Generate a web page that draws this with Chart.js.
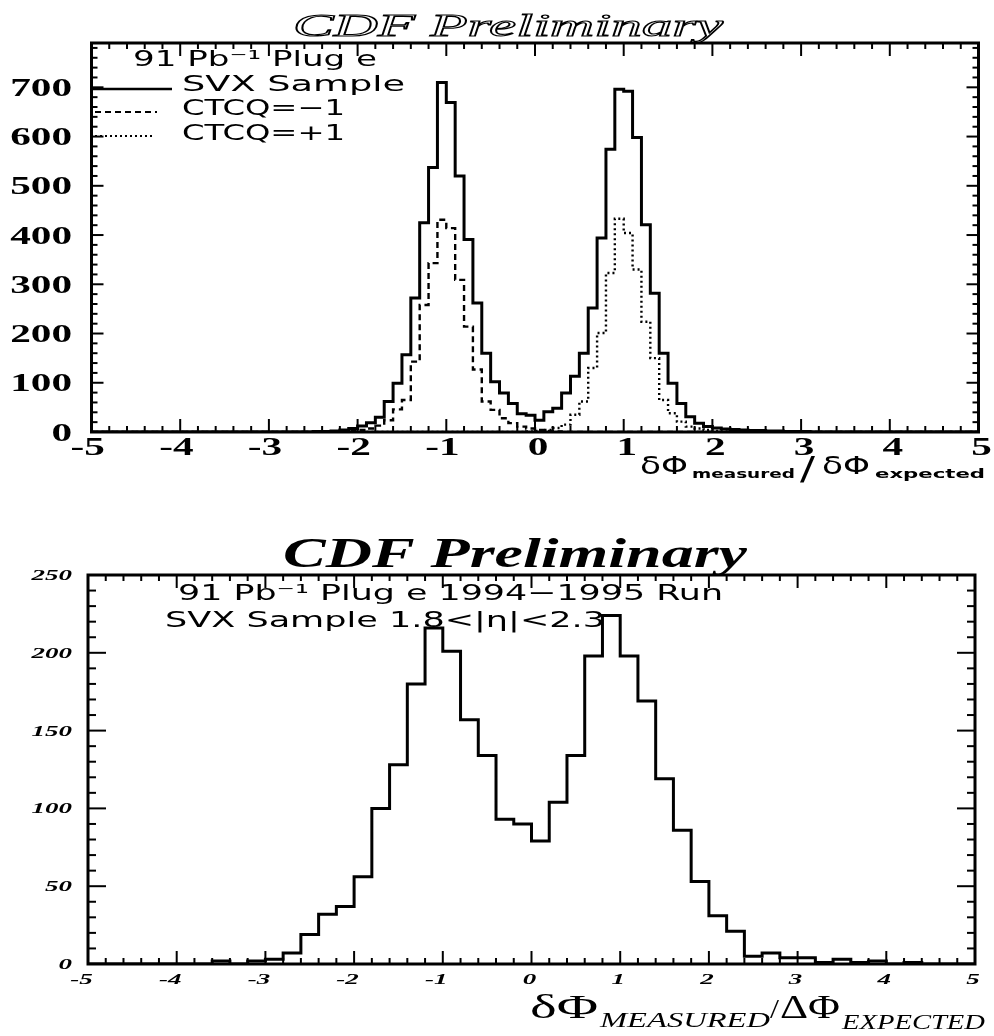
<!DOCTYPE html>
<html><head><meta charset="utf-8">
<script src="https://cdn.jsdelivr.net/npm/chart.js@4.4.0/dist/chart.umd.min.js"></script>
<style>
html,body{margin:0;padding:0;background:#fff;width:994px;height:1036px;overflow:hidden;}
canvas{position:absolute;left:0;}
#c1{top:0;} #c2{top:500px;}
</style></head><body>
<canvas id="c1" width="994" height="500"></canvas>
<canvas id="c2" width="994" height="536"></canvas>
<script>
// ---------- DATA ----------
// Top panel: 100 bins of width 0.1 from -5 to 5
const topRange = [-5, 5];
const topSVX = [
  0,0,0,0,0,0,0,0,0,0, 0,0,0,0,0,0,0,0,0,0, 0,0,0,0,0,
  1,1,2,4,7,12,19,30,62,99,157,272,425,537,710,669,520,391,262,160,102,79,58,37,34,
  24,41,48,79,113,160,252,394,574,696,692,598,421,282,160,99,58,31,18,11,8,6,5,4,3,
  3,2,2,1,1,1,0,0,0,0, 0,0,0,0,0,0,0,0,0,0, 0,0,0,0,0
];
const topCTCQm1 = [
  0,0,0,0,0,0,0,0,0,0, 0,0,0,0,0,0,0,0,0,0, 0,0,0,0,0,0,0,0,0,
  2,4,7,13,24,46,65,143,258,343,431,414,309,214,127,62,45,28,18,11,7,4,2,1,
  0,0,0,0,0,0,0,0,0,0, 0,0,0,0,0,0,0,0,0,0, 0,0,0,0,0,0,0,0,0,0,
  0,0,0,0,0,0,0,0,0,0, 0,0,0,0,0,0,0
];
const topCTCQp1 = [
  0,0,0,0,0,0,0,0,0,0, 0,0,0,0,0,0,0,0,0,0, 0,0,0,0,0,0,0,0,0,0,
  0,0,0,0,0,0,0,0,0,0, 0,0,0,0,0,0,0,0,0,
  1,2,4,8,15,35,62,130,201,323,433,404,330,224,150,65,38,21,11,7,4,2,1,
  0,0,0,0,0,0,0,0,0,0, 0,0,0,0,0,0,0,0,0,0, 0,0,0,0,0,0,0,0
];
const topYTicks = [0,100,200,300,400,500,600,700];
const topXTicks = [-5,-4,-3,-2,-1,0,1,2,3,4,5];
const topYMax = 790;

// Bottom panel: 50 bins of width 0.2 from -5 to 5
const botRange = [-5, 5];
const botSVX = [
  0,0,0,0,0,0,0,2,0,2,
  3,7,19,32,37,56,100,128,180,216,
  201,157,134,93,90,79,104,134,198,224,
  198,169,119,86,53,31,21,5,7,4,
  4,1,3,1,2,0,1,0,0,0
];
const botYTicks = [0,50,100,150,200,250];
const botXTicks = [-5,-4,-3,-2,-1,0,1,2,3,4,5];
const botYMax = 250;

// ---------- helpers ----------
function histPoints(vals, range) {
  const w = (range[1] - range[0]) / vals.length;
  const pts = vals.map((v, i) => ({x: range[0] + i * w, y: v}));
  pts.push({x: range[1], y: vals[vals.length - 1]});
  return pts;
}
function sText(ctx, s, x, y, font, sx, align) {
  ctx.save();
  ctx.font = font;
  ctx.textBaseline = 'alphabetic';
  const m = ctx.measureText(s).width;
  let ox = 0;
  if (align === 'center') ox = -m / 2; else if (align === 'right') ox = -m;
  ctx.translate(x, y); ctx.scale(sx, 1);
  ctx.fillText(s, ox, 0);
  ctx.restore();
  return m * sx;
}
function fitText(ctx, s, x, y, font, width, stroke) {
  ctx.save();
  ctx.font = font;
  ctx.textBaseline = 'alphabetic';
  const m = ctx.measureText(s).width;
  ctx.translate(x, y); ctx.scale(width / m, 1);
  if (stroke) { ctx.lineWidth = stroke; ctx.strokeText(s, 0, 0); }
  else ctx.fillText(s, 0, 0);
  ctx.restore();
}
function seg(ctx, x1, y1, x2, y2) { ctx.beginPath(); ctx.moveTo(x1, y1); ctx.lineTo(x2, y2); ctx.stroke(); }

function drawAxes(chart, o) {
  const {ctx, chartArea: a, scales: {x, y}} = chart;
  ctx.save();
  ctx.strokeStyle = '#000'; ctx.fillStyle = '#000';
  ctx.lineWidth = 2;
  // x ticks (minor every 0.2)
  for (let i = 0; i <= 50; i++) {
    const v = -5 + i * 0.2;
    const px = x.getPixelForValue(v);
    const L = (i % 5 === 0) ? o.xMajor : o.xMinor;
    seg(ctx, px, a.bottom, px, a.bottom - L);
    seg(ctx, px, a.top, px, a.top + L);
  }
  // y ticks
  const n = Math.round(o.yMaxTick / o.yMinorStep);
  for (let i = 0; i <= n; i++) {
    const v = i * o.yMinorStep;
    const py = y.getPixelForValue(v);
    const L = (i % o.yMinorPer === 0) ? o.yMajor : o.yMinor;
    seg(ctx, a.left, py, a.left + L, py);
    seg(ctx, a.right, py, a.right - L, py);
  }
  ctx.lineWidth = 3;
  ctx.strokeRect(a.left, a.top, a.width, a.height);
  // labels
  o.yTicks.forEach(v => {
    sText(ctx, String(v), o.yLabelX, y.getPixelForValue(v) + o.yLabelDy, o.yFont, o.ySx, 'right');
  });
  o.xTicks.forEach(v => {
    const s = String(v);
    ctx.font = o.xFont;
    const dw = ctx.measureText(s.replace('-', '')).width * o.xSx;
    sText(ctx, s, x.getPixelForValue(v) + dw / 2 + o.xLabelDx, o.xLabelY, o.xFont, o.xSx, 'right');
  });
  ctx.restore();
}

const baseOpts = (ymax) => ({
  responsive: false, animation: false, devicePixelRatio: 1,
  plugins: {legend: {display: false}, tooltip: {enabled: false}},
  elements: {point: {radius: 0}, line: {tension: 0}},
  scales: {
    x: {type: 'linear', min: -5, max: 5, display: false},
    y: {type: 'linear', min: 0, max: ymax, display: false}
  }
});

// ---------- TOP CHART ----------
const topOpts = baseOpts(topYMax);
topOpts.layout = {padding: {left: 91.5, right: 15.5, top: 43, bottom: 68}};
new Chart(document.getElementById('c1'), {
  type: 'line',
  data: {datasets: [
    {label: 'SVX Sample', data: histPoints(topSVX, topRange), stepped: 'before', borderColor: '#000', borderWidth: 3, fill: false},
    {label: 'CTCQ=-1', data: histPoints(topCTCQm1, topRange), stepped: 'before', borderColor: '#000', borderWidth: 2.4, borderDash: [6, 4], fill: false},
    {label: 'CTCQ=+1', data: histPoints(topCTCQp1, topRange), stepped: 'before', borderColor: '#000', borderWidth: 2.4, borderDash: [2, 3], fill: false}
  ]},
  options: topOpts,
  plugins: [{
    id: 'deco1',
    afterDraw(chart) {
      const ctx = chart.ctx;
      drawAxes(chart, {
        xMajor: 13, xMinor: 6, yMajor: 12, yMinor: 6, yMinorStep: 20, yMinorPer: 5, yMaxTick: 780,
        yTicks: topYTicks, xTicks: topXTicks,
        yLabelX: 72, yLabelDy: 8.5, yFont: 'bold 25px "Liberation Serif"', ySx: 1.65,
        xLabelY: 455, xLabelDx: 3, xFont: 'bold 25px "Liberation Serif"', xSx: 1.65
      });
      ctx.save();
      ctx.fillStyle = '#000'; ctx.strokeStyle = '#000';
      // title (outlined)
      fitText(ctx, 'CDF Preliminary', 293, 36, 'italic 32px "Liberation Serif"', 430, 1.1);
      // legend
      const lf = '22px "DejaVu Sans"';
      fitText(ctx, '91 Pb\u207B\u00B9 Plug e', 133, 66, lf, 244);
      fitText(ctx, 'SVX Sample', 182, 90.5, lf, 223);
      fitText(ctx, 'CTCQ=\u22121', 182, 115, lf, 163);
      fitText(ctx, 'CTCQ=+1', 182, 139.5, lf, 163);
      ctx.lineWidth = 2.6; seg(ctx, 93, 89, 172, 89);
      ctx.lineWidth = 2.2; ctx.setLineDash([6, 4]); seg(ctx, 95, 112, 157, 112);
      ctx.setLineDash([2, 3]); seg(ctx, 95, 136, 152, 136);
      ctx.setLineDash([]);
      // x title
      const bf = '24px "DejaVu Sans"', sf = 'bold 13px "DejaVu Sans"';
      fitText(ctx, '\u03B4\u03A6', 640, 474, bf, 48);
      fitText(ctx, 'measured', 692, 478, sf, 103);
      fitText(ctx, '/', 800, 479, '32px "DejaVu Sans"', 15);
      fitText(ctx, '\u03B4\u03A6', 822, 474, bf, 48);
      fitText(ctx, 'expected', 875, 478, sf, 110);
      ctx.restore();
    }
  }]
});

// ---------- BOTTOM CHART ----------
const botOpts = baseOpts(botYMax);
botOpts.layout = {padding: {left: 88, right: 19, top: 75, bottom: 72}};
new Chart(document.getElementById('c2'), {
  type: 'line',
  data: {datasets: [
    {label: 'SVX Sample 1.8<|η|<2.3', data: histPoints(botSVX, botRange), stepped: 'before', borderColor: '#000', borderWidth: 3, fill: false}
  ]},
  options: botOpts,
  plugins: [{
    id: 'deco2',
    afterDraw(chart) {
      const ctx = chart.ctx;
      drawAxes(chart, {
        xMajor: 13, xMinor: 6, yMajor: 18, yMinor: 8, yMinorStep: 10, yMinorPer: 5, yMaxTick: 250,
        yTicks: botYTicks, xTicks: botXTicks,
        yLabelX: 72, yLabelDy: 5, yFont: 'italic bold 15px "Liberation Serif"', ySx: 1.8,
        xLabelY: 484, xLabelDx: -2, xFont: 'italic bold 15px "Liberation Serif"', xSx: 1.8
      });
      ctx.save();
      ctx.fillStyle = '#000';
      fitText(ctx, 'CDF Preliminary', 283, 67, 'italic bold 42px "Liberation Serif"', 464);
      const lf = '22px "DejaVu Sans"';
      fitText(ctx, '91 Pb\u207B\u00B9 Plug e 1994\u22121995 Run', 178, 100, lf, 545);
      fitText(ctx, 'SVX Sample 1.8<|\u03B7|<2.3', 165, 127, lf, 440);
      // x title
      const bf = '34px "Liberation Serif"', sf = 'italic 20px "Liberation Serif"';
      fitText(ctx, '\u03B4\u03A6', 530, 518, bf, 68);
      fitText(ctx, 'MEASURED', 600, 527, sf, 170);
      fitText(ctx, '/', 770, 518, '28px "Liberation Serif"', 9);
      fitText(ctx, '\u0394\u03A6', 780, 518, bf, 60);
      fitText(ctx, 'EXPECTED', 842, 529, sf, 143);
      ctx.restore();
    }
  }]
});
</script>
</body></html>
